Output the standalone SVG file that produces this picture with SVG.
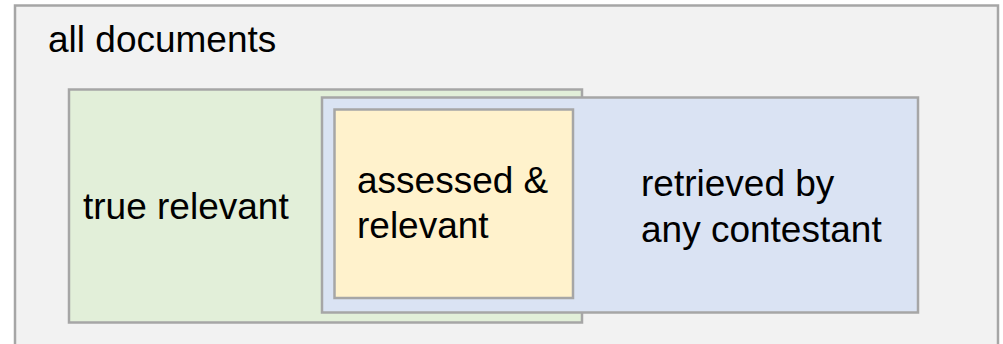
<svg xmlns="http://www.w3.org/2000/svg" width="1003" height="344" viewBox="0 0 1003 344">
<style>
rect{stroke:#a6a6a6;stroke-width:2.5}
text{font-family:"Liberation Sans",Arial,sans-serif;font-size:37px;fill:#000}
</style>
<rect width="1003" height="344" fill="#ffffff" style="stroke:none"/>
<g id="all">
<rect x="15" y="5.5" width="983" height="350" fill="#f2f2f2"/>
<text x="48" y="52">all documents</text>
</g>
<g id="true-relevant">
<rect x="69" y="89.5" width="513" height="233" fill="#e2efd9"/>
<text x="83" y="219">true relevant</text>
</g>
<g id="retrieved">
<rect x="322" y="97.5" width="596" height="215" fill="#dae3f3"/>
<text x="641" y="196">retrieved by</text>
<text x="641" y="241.7">any contestant</text>
</g>
<g id="assessed">
<rect x="334.5" y="109.5" width="238.5" height="188.5" fill="#fff2cc"/>
<text x="357" y="192.7">assessed &amp;</text>
<text x="357" y="238.3">relevant</text>
</g>
<g id="connectors"/>
</svg>
